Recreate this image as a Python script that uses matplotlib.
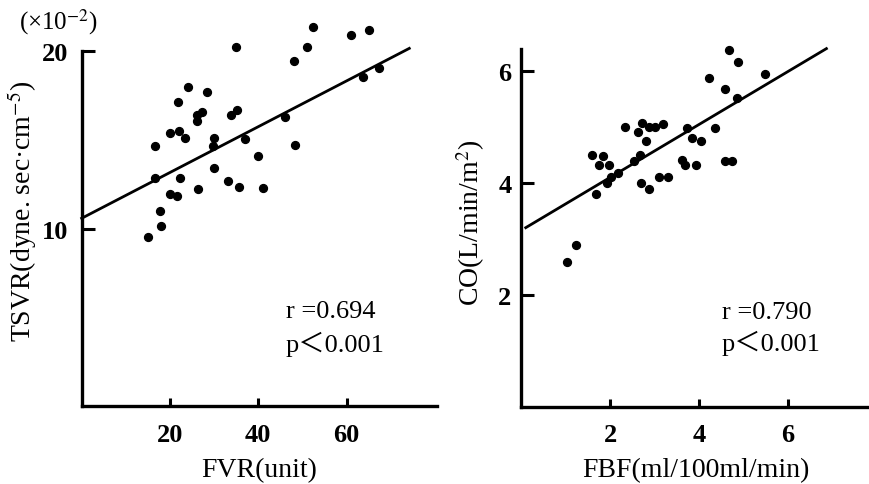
import matplotlib
matplotlib.use("Agg")
import matplotlib.pyplot as plt
import numpy as np

plt.rcParams['font.family'] = ['Liberation Serif', 'Noto Sans CJK SC', 'DejaVu Sans']
plt.rcParams['mathtext.fontset'] = 'stix'

# ---- Left panel data: FVR vs TSVR (x10^-2) ----
fvr = [52.3, 65.1, 61.0, 51.1, 35.0, 48.2, 67.4, 63.7, 24.0, 28.3,
       21.9, 27.3, 26.1, 26.1, 35.2, 33.9, 46.1, 19.9, 22.1, 23.5,
       16.7, 30.0, 29.8, 36.9, 48.4, 40.0, 30.0, 16.7, 22.3, 33.1,
       19.9, 21.6, 26.3, 35.6, 41.1, 17.7, 17.9, 15.0]
tsvr = [21.35, 21.18, 20.9, 20.23, 20.19, 19.42, 19.03, 18.5, 17.97, 17.69,
        17.13, 16.57, 16.4, 16.04, 16.68, 16.38, 16.25, 15.37, 15.46, 15.07,
        14.63, 15.1, 14.65, 15.01, 14.69, 14.07, 13.4, 12.87, 12.83, 12.66,
        11.95, 11.82, 12.2, 12.31, 12.27, 11.01, 10.13, 9.55]
left_fit = (0.1287, 10.58)      # slope, intercept
left_fit_x = [0.0, 74.2]
left_xticks = [20, 40, 60]
left_yticks = [10, 20]

# ---- Right panel data: FBF vs CO ----
fbf = [4.67, 4.88, 5.48, 4.23, 4.58, 4.85, 2.33, 2.72, 2.87, 3.0,
       3.19, 2.62, 2.8, 3.73, 4.35, 3.84, 4.04, 1.58, 1.84, 2.67,
       2.53, 1.75, 1.98, 3.62, 3.69, 3.92, 4.59, 4.73, 2.17, 2.02,
       1.92, 3.09, 3.29, 2.7, 2.88, 1.67, 1.22, 1.02]
co = [6.375, 6.15, 5.94, 5.87, 5.67, 5.51, 4.99, 5.06, 5.0, 4.99,
      5.05, 4.9, 4.74, 4.97, 4.98, 4.8, 4.75, 4.49, 4.48, 4.5,
      4.38, 4.32, 4.32, 4.41, 4.32, 4.32, 4.39, 4.39, 4.17, 4.1,
      4.0, 4.1, 4.1, 3.99, 3.88, 3.8, 2.89, 2.58]
right_fit = (0.473, 3.15)
right_fit_x = [0.1, 6.86]
right_xticks = [2, 4, 6]
right_yticks = [2, 4, 6]

fig = plt.figure(figsize=(8.7, 4.85), dpi=100)

axL = fig.add_axes([0.0939, 0.1598, 0.408, 0.807])
axR = fig.add_axes([0.5992, 0.1594, 0.4008, 0.762])

def style(ax, xlim, ylim, ytop, xt, yt, ypad):
    ax.set_xlim(*xlim)
    ax.set_ylim(*ylim)
    for s in ['top', 'right']:
        ax.spines[s].set_visible(False)
    for s in ['left', 'bottom']:
        ax.spines[s].set_linewidth(2.4)
        ax.spines[s].set_color('black')
    ax.spines['left'].set_bounds(0, ytop)
    ax.set_xticks(xt)
    ax.set_yticks(yt)
    ax.tick_params(axis='both', direction='in', width=2.2, colors='black')
    ax.tick_params(axis='y', length=9, pad=ypad)
    ax.tick_params(axis='x', length=6, pad=12)
    for lab in ax.get_xticklabels() + ax.get_yticklabels():
        lab.set_fontweight('bold')
        lab.set_fontsize(19)
    ax.patch.set_alpha(0)

# Left
axL.scatter(fvr, tsvr, s=32, color='black', clip_on=False, zorder=3)
xs = np.array(left_fit_x)
axL.plot(xs, left_fit[0] * xs + left_fit[1], color='black', lw=2, clip_on=False)
style(axL, (0, 80.4), (0, 22), 20, left_xticks, left_yticks, 10)
axL.set_xlabel('FVR(unit)', fontsize=20, labelpad=8)
axL.set_ylabel('TSVR(dyne. sec·cm$^{-5}$)', fontsize=20, labelpad=2)
axL.text(0.575, 0.229, 'r =0.694', transform=axL.transAxes, fontsize=19)
axL.text(0.575, 0.142, 'p＜0.001', transform=axL.transAxes, fontsize=19)
fig.text(0.022, 0.94, '(×10$^{-2}$)', fontsize=18)

# Right
axR.scatter(fbf, co, s=32, color='black', clip_on=False, zorder=3)
xs = np.array(right_fit_x)
axR.plot(xs, right_fit[0] * xs + right_fit[1], color='black', lw=2, clip_on=False)
style(axR, (0, 7.84), (0, 6.6), 6.38, right_xticks, right_yticks, 7)
axR.set_xlabel('FBF(ml/100ml/min)', fontsize=20, labelpad=8)
axR.set_ylabel('CO(L/min/m$^2$)', fontsize=20, labelpad=8)
axR.text(0.575, 0.24, 'r =0.790', transform=axR.transAxes, fontsize=19)
axR.text(0.575, 0.153, 'p＜0.001', transform=axR.transAxes, fontsize=19)

fig.savefig('out.png', dpi=100, facecolor='white')
